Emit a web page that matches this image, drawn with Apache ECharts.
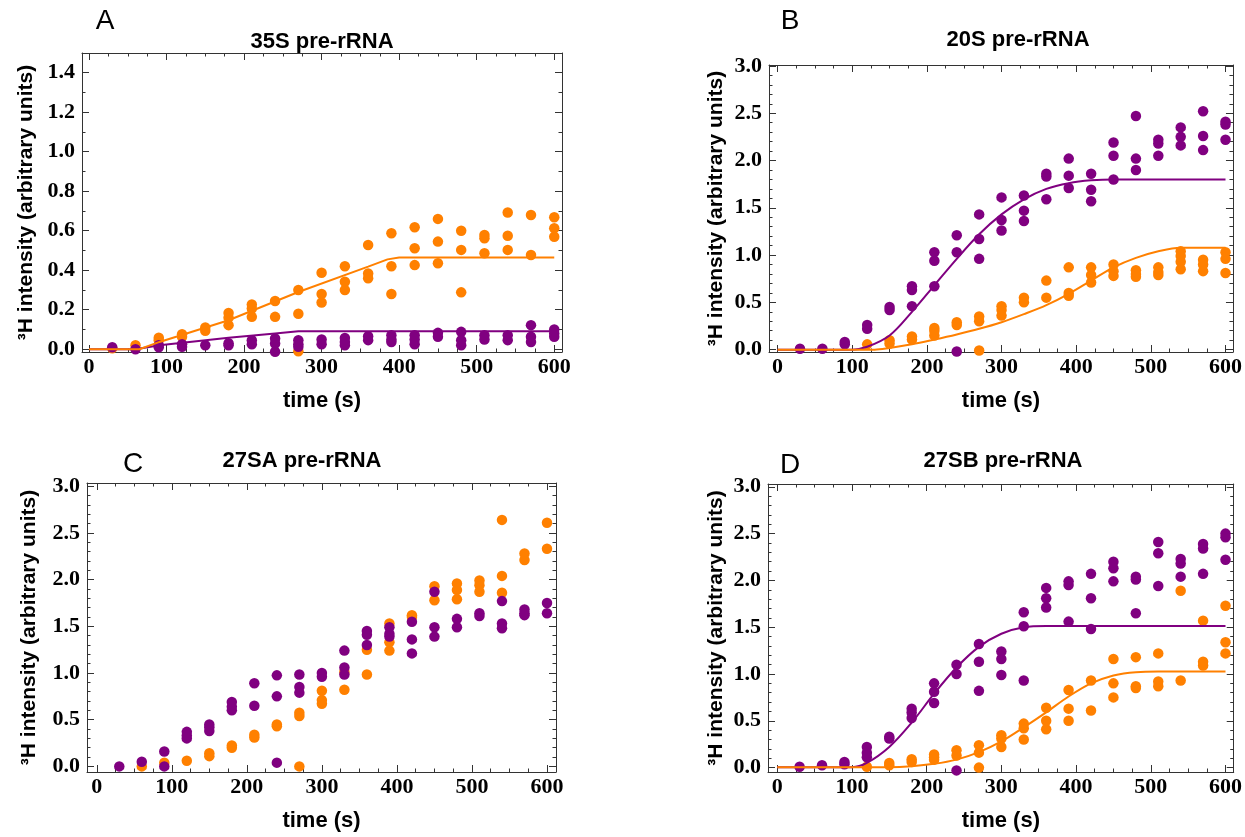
<!DOCTYPE html>
<html>
<head>
<meta charset="utf-8">
<script src="https://cdn.jsdelivr.net/npm/echarts@6/dist/echarts.min.js"></script>
<style>
html,body{margin:0;padding:0;background:#fff;}
#main{width:1245px;height:837px;}
</style>
</head>
<body>
<div id="main"></div>
<script>
// ---- data: [time (s), 3H intensity] ----
var aOrangePts = [[30,0.005],[60,0.02],[90,0.058],[90,0.046],[120,0.076],[120,0.063],[150,0.11],[150,0.093],
  [180,0.184],[180,0.16],[180,0.122],[210,0.227],[210,0.206],[210,0.164],[240,0.244],[240,0.164],
  [270,0.30],[270,0.18],[270,-0.01],[300,0.387],[300,0.28],[300,0.237],[330,0.42],[330,0.342],[330,0.30],
  [360,0.528],[360,0.384],[360,0.359],[390,0.587],[390,0.42],[390,0.28],[420,0.618],[420,0.511],[420,0.426],
  [450,0.66],[450,0.545],[450,0.435],[480,0.60],[480,0.503],[480,0.288],[510,0.579],[510,0.562],[510,0.486],
  [540,0.692],[540,0.575],[540,0.503],[570,0.68],[570,0.477],[600,0.668],[600,0.613],[600,0.57]];
var aPurplePts = [[30,0.01],[60,0.0],[90,0.02],[90,0.01],[120,0.025],[120,0.012],[150,0.02],[180,0.03],[180,0.02],
  [210,0.046],[210,0.025],[240,0.054],[240,0.029],[240,-0.013],[270,0.046],[270,0.025],[270,0.012],
  [300,0.049],[300,0.025],[330,0.057],[330,0.037],[330,0.02],[360,0.066],[360,0.046],
  [390,0.071],[390,0.049],[390,0.037],[420,0.071],[420,0.049],[420,0.025],[450,0.083],[450,0.063],
  [480,0.088],[480,0.046],[480,0.02],[510,0.071],[510,0.049],[540,0.071],[540,0.046],
  [570,0.122],[570,0.063],[570,0.037],[600,0.10],[600,0.08],[600,0.063]];
var aOrangeFit = [[0,0],[65,0],[91,0.037],[180,0.147],[270,0.29],[360,0.418],[385,0.455],[400,0.465],[600,0.465]];
var aPurpleFit = [[0,0],[60,0],[91,0.02],[180,0.058],[240,0.08],[270,0.091],[600,0.091]];

var bOrangePts = [[120,0.056],[150,0.10],[150,0.064],[180,0.14],[180,0.106],[210,0.23],[210,0.20],[210,0.15],
  [240,0.29],[240,0.26],[270,0.35],[270,0.30],[270,-0.01],[300,0.46],[300,0.42],[300,0.36],[330,0.55],[330,0.50],
  [360,0.73],[360,0.55],[390,0.87],[390,0.60],[390,0.57],[420,0.87],[420,0.79],[420,0.71],
  [450,0.90],[450,0.83],[450,0.78],[480,0.84],[480,0.80],[480,0.77],[510,0.87],[510,0.82],[510,0.79],
  [540,1.04],[540,0.99],[540,0.93],[540,0.85],[570,0.95],[570,0.90],[570,0.83],[600,1.03],[600,0.96],[600,0.81]];
var bPurplePts = [[30,0.01],[60,0.01],[90,0.08],[90,0.056],[120,0.26],[120,0.22],[150,0.45],[150,0.42],
  [180,0.67],[180,0.63],[180,0.46],[210,1.03],[210,0.94],[210,0.67],[240,1.21],[240,1.03],[240,-0.02],
  [270,1.43],[270,1.17],[270,0.96],[300,1.61],[300,1.37],[300,1.26],[330,1.63],[330,1.47],[330,1.36],
  [360,1.86],[360,1.83],[360,1.59],[390,2.02],[390,1.84],[390,1.71],[420,1.86],[420,1.69],[420,1.57],
  [450,2.19],[450,2.05],[450,1.80],[480,2.47],[480,2.02],[480,1.90],[510,2.22],[510,2.18],[510,2.05],
  [540,2.35],[540,2.25],[540,2.16],[570,2.52],[570,2.26],[570,2.11],[600,2.41],[600,2.38],[600,2.22]];
var bOrangeFit = [[0,0],[130,0],[150,0.018],[180,0.056],[210,0.106],[240,0.16],[270,0.22],[300,0.29],[330,0.375],
  [360,0.47],[390,0.59],[420,0.73],[450,0.87],[480,0.97],[510,1.04],[540,1.077],[600,1.077]];
var bPurpleFit = [[0,0],[100,0],[120,0.03],[150,0.15],[180,0.40],[210,0.68],[240,0.96],[270,1.22],[300,1.43],
  [330,1.59],[360,1.70],[390,1.76],[420,1.79],[450,1.80],[600,1.80]];

var cOrangePts = [[60,0.0],[90,0.04],[120,0.06],[150,0.14],[150,0.11],[180,0.225],[180,0.20],[210,0.34],[210,0.31],
  [240,0.45],[240,0.43],[270,0.575],[270,0.54],[270,0.0],[300,0.81],[300,0.71],[300,0.67],[330,1.01],[330,0.82],
  [360,1.25],[360,0.985],[390,1.53],[390,1.33],[390,1.24],[420,1.62],[420,1.60],[450,1.93],[450,1.78],
  [480,1.96],[480,1.89],[480,1.79],[510,1.99],[510,1.94],[510,1.87],[540,2.64],[540,2.04],[540,1.86],
  [570,2.28],[570,2.21],[600,2.61],[600,2.33]];
var cPurplePts = [[30,0.0],[60,0.05],[90,0.16],[90,0.0],[120,0.37],[120,0.33],[120,0.30],[150,0.45],[150,0.42],[150,0.38],
  [180,0.69],[180,0.64],[180,0.60],[210,0.89],[210,0.65],[240,0.975],[240,0.75],[240,0.04],
  [270,0.985],[270,0.85],[270,0.79],[300,1.0],[300,0.96],[330,1.24],[330,1.06],[330,0.985],
  [360,1.45],[360,1.41],[360,1.30],[390,1.49],[390,1.42],[390,1.39],[420,1.55],[420,1.36],[420,1.21],
  [450,1.87],[450,1.49],[450,1.39],[480,1.58],[480,1.49],[510,1.64],[510,1.61],
  [540,1.77],[540,1.53],[540,1.48],[570,1.68],[570,1.64],[570,1.62],[600,1.75],[600,1.64]];

var dOrangePts = [[120,0.01],[150,0.05],[150,0.025],[180,0.09],[180,0.06],[210,0.14],[210,0.11],[210,0.085],
  [240,0.185],[240,0.13],[270,0.24],[270,0.16],[270,0.0],[300,0.345],[300,0.31],[300,0.22],
  [330,0.47],[330,0.42],[330,0.30],[360,0.64],[360,0.50],[360,0.41],[390,0.83],[390,0.63],[390,0.50],
  [420,0.93],[420,0.61],[450,1.16],[450,0.90],[450,0.75],[480,1.18],[480,0.87],[480,0.85],
  [510,1.22],[510,0.92],[510,0.87],[540,1.89],[540,0.93],[570,1.57],[570,1.13],[570,1.09],
  [600,1.73],[600,1.34],[600,1.22]];
var dPurplePts = [[30,0.01],[60,0.025],[90,0.06],[90,0.035],[120,0.22],[120,0.16],[120,0.11],[150,0.33],[150,0.31],
  [180,0.63],[180,0.59],[180,0.53],[210,0.90],[210,0.81],[210,0.69],[240,1.10],[240,1.00],[240,-0.03],
  [270,1.32],[270,1.13],[270,0.82],[300,1.24],[300,1.16],[300,0.99],[330,1.66],[330,1.51],[330,0.93],
  [360,1.92],[360,1.81],[360,1.71],[390,1.99],[390,1.95],[390,1.56],[420,2.07],[420,1.81],[420,1.48],
  [450,2.20],[450,2.13],[450,1.99],[480,2.04],[480,2.01],[480,1.65],[510,2.41],[510,2.29],[510,1.94],
  [540,2.23],[540,2.18],[540,2.04],[570,2.39],[570,2.34],[570,2.07],[600,2.50],[600,2.46],[600,2.22]];
var dOrangeFit = [[0,0.005],[150,0.005],[180,0.015],[210,0.04],[240,0.085],[270,0.165],[300,0.28],[330,0.43],
  [360,0.59],[390,0.76],[420,0.90],[450,0.985],[480,1.02],[510,1.026],[600,1.026]];
var dPurpleFit = [[0,0.005],[100,0.005],[120,0.05],[150,0.22],[180,0.48],[210,0.79],[240,1.07],[270,1.29],
  [300,1.43],[330,1.50],[360,1.513],[600,1.513]];

var panelTitles = ['35S pre-rRNA', '20S pre-rRNA', '27SA pre-rRNA', '27SB pre-rRNA'];
var panelLetters = ['A', 'B', 'C', 'D'];
var xMajor = [0,100,200,300,400,500,600];

// ---- layout ----
var ORANGE = '#FF8000', PURPLE = '#800080', FRAME = '#333';
function steps(a, b, s){ var r=[]; for(var i=0; a+i*s<=b+1e-9; i++){ r.push(Math.round((a+i*s)*1000)/1000); } return r; }
var xMinor = steps(0, 600, 25);

var panels = [
  {grid:{left:82,top:53,width:480,height:299}, xr:[-9,610], yr:[-0.014,1.5], yMajor:steps(0,1.4,0.2), yMinor:steps(0,1.5,0.1),
   orange:aOrangePts, purple:aPurplePts, orangeFit:aOrangeFit, purpleFit:aPurpleFit, smooth:false,
   title:[322,31], letter:[105,7], yGap:45},
  {grid:{left:769,top:65,width:464,height:287}, xr:[-11.5,610], yr:[-0.025,3.01], yMajor:steps(0,3,0.5), yMinor:steps(0,3,0.1),
   orange:bOrangePts, purple:bPurplePts, orangeFit:bOrangeFit, purpleFit:bPurpleFit, smooth:true,
   title:[1018,29], letter:[790,7], yGap:42},
  {grid:{left:87,top:483,width:469,height:289}, xr:[-13,612], yr:[-0.06,3.035], yMajor:steps(0,3,0.5), yMinor:steps(0,3,0.1),
   orange:cOrangePts, purple:cPurplePts, orangeFit:null, purpleFit:null, smooth:false,
   title:[302,450], letter:[133,450], yGap:47},
  {grid:{left:768,top:484,width:467,height:288}, xr:[-12.3,611], yr:[-0.047,3.03], yMajor:steps(0,3,0.5), yMinor:steps(0,3,0.1),
   orange:dOrangePts, purple:dPurplePts, orangeFit:dOrangeFit, purpleFit:dPurpleFit, smooth:true,
   title:[1003,450], letter:[790,451], yGap:41}
];

var lineSt = {color: FRAME, width: 1};
var tickFont = {fontFamily:'Liberation Serif', fontWeight:'bold', fontSize:22, color:'#000'};
var nameFont = {fontFamily:'Liberation Sans', fontWeight:'bold', fontSize:22, color:'#000'};

function axis(gi, pos, range, extra) {
  var a = {type:'value', gridIndex:gi, position:pos, min:range[0], max:range[1],
    splitLine:{show:false}, axisLabel:{show:false},
    axisLine:{show:false, onZero:false}, axisTick:{show:false}};
  return Object.assign(a, extra);
}

var option = {
  animation: false,
  backgroundColor: '#fff',
  title: [], grid: [], xAxis: [], yAxis: [], series: []
};

panels.forEach(function(p, gi){
  option.grid.push(Object.assign({containLabel:false}, p.grid));
  // x axes: bottom (labels + major), bottom minor, top major, top minor
  option.xAxis.push(axis(gi, 'bottom', p.xr, {
    axisLine:{show:true, onZero:false, lineStyle:lineSt},
    axisTick:{show:true, inside:true, length:7, customValues:xMajor, lineStyle:lineSt},
    axisLabel:Object.assign({show:true, customValues:xMajor, margin:4}, tickFont),
    name:'time (s)', nameLocation:'middle', nameGap:38, nameTextStyle:nameFont
  }));
  option.xAxis.push(axis(gi, 'bottom', p.xr, {
    axisTick:{show:true, inside:true, length:3.5, customValues:xMinor, lineStyle:lineSt}}));
  option.xAxis.push(axis(gi, 'top', p.xr, {
    axisLine:{show:true, onZero:false, lineStyle:lineSt},
    axisTick:{show:true, inside:true, length:7, customValues:xMajor, lineStyle:lineSt}}));
  option.xAxis.push(axis(gi, 'top', p.xr, {
    axisTick:{show:true, inside:true, length:3.5, customValues:xMinor, lineStyle:lineSt}}));
  // y axes: left (labels + major), left minor, right major, right minor
  option.yAxis.push(axis(gi, 'left', p.yr, {
    axisLine:{show:true, onZero:false, lineStyle:lineSt},
    axisTick:{show:true, inside:true, length:7, customValues:p.yMajor, lineStyle:lineSt},
    axisLabel:Object.assign({show:true, customValues:p.yMajor, margin:7,
      formatter:function(v){ return v.toFixed(1); }}, tickFont),
    name:'\u00B3H intensity (arbitrary units)', nameLocation:'middle', nameGap:p.yGap,
    nameTextStyle:Object.assign({}, nameFont, {fontSize:21})
  }));
  option.yAxis.push(axis(gi, 'left', p.yr, {
    axisTick:{show:true, inside:true, length:3.5, customValues:p.yMinor, lineStyle:lineSt}}));
  option.yAxis.push(axis(gi, 'right', p.yr, {
    axisLine:{show:true, onZero:false, lineStyle:lineSt},
    axisTick:{show:true, inside:true, length:7, customValues:p.yMajor, lineStyle:lineSt}}));
  option.yAxis.push(axis(gi, 'right', p.yr, {
    axisTick:{show:true, inside:true, length:3.5, customValues:p.yMinor, lineStyle:lineSt}}));

  option.title.push({text:panelTitles[gi], left:p.title[0], top:p.title[1], textAlign:'center', padding:0,
    textStyle:{fontFamily:'Liberation Sans', fontWeight:'bold', fontSize:22, color:'#000'}});
  option.title.push({text:panelLetters[gi], left:p.letter[0], top:p.letter[1], textAlign:'center', padding:0,
    textStyle:{fontFamily:'Liberation Sans', fontWeight:'normal', fontSize:28, color:'#000'}});

  var ai = gi * 4;
  option.series.push({type:'scatter', xAxisIndex:ai, yAxisIndex:ai, data:p.orange, symbolSize:10.5,
    itemStyle:{color:ORANGE, opacity:1}});
  option.series.push({type:'scatter', xAxisIndex:ai, yAxisIndex:ai, data:p.purple, symbolSize:10.5,
    itemStyle:{color:PURPLE, opacity:1}});
  if (p.purpleFit) {
    option.series.push({type:'line', xAxisIndex:ai, yAxisIndex:ai, data:p.purpleFit, showSymbol:false, symbol:'none',
      smooth:p.smooth ? 0.35 : false, lineStyle:{color:PURPLE, width:2}, itemStyle:{color:PURPLE}});
  }
  if (p.orangeFit) {
    option.series.push({type:'line', xAxisIndex:ai, yAxisIndex:ai, data:p.orangeFit, showSymbol:false, symbol:'none',
      smooth:p.smooth ? 0.35 : false, lineStyle:{color:ORANGE, width:2}, itemStyle:{color:ORANGE}});
  }
});

var myChart = echarts.init(document.getElementById('main'));
myChart.setOption(option);
</script>
</body>
</html>
